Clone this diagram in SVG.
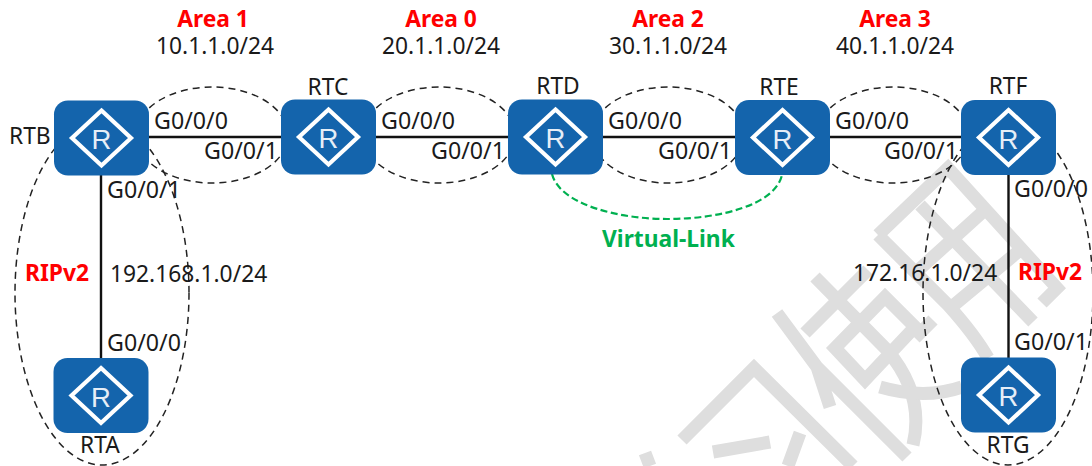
<svg xmlns="http://www.w3.org/2000/svg" width="1092" height="466" viewBox="0 0 1092 466">
<style>
text{font-family:"Noto Sans","Open Sans",sans-serif;font-size:22.8px;fill:#1a1a1a}
.m{text-anchor:middle}
.r{font-weight:700;fill:#ff0000}
.g{font-weight:700;fill:#00b050}
.p{font-size:23.2px}
.body{fill:#1464ac}
.dia{fill:none;stroke:#fff;stroke-width:4.2}
.R{font-family:"Liberation Sans",Arial,sans-serif;font-size:27.5px;fill:#e6eef7;text-anchor:middle}
.link{stroke:#111;stroke-width:2.4;fill:none}
.dash{fill:none;stroke:#222;stroke-width:1.5;stroke-dasharray:7 5}
.vl{fill:none;stroke:#00b050;stroke-width:2.2;stroke-dasharray:7 3.5}
.wm{fill:none;stroke:#dedede;stroke-width:13}
</style>
<defs>
<g id="router">
<rect class="body" x="-47.5" y="-37.5" width="95" height="75" rx="14"/>
<path class="dia" d="M0-27.5L29.5 0L0 27.5L-29.5 0Z"/>
<text class="R" x="0" y="11">R</text>
</g>
</defs>
<g id="watermark">
<path class="wm" d="M878 235L948 168L1057 288L1042 303M878 235L948 305Q975 335 988 358M920 205L1033 322M913 275L987 208M948 310L1020 250"/>
<path class="wm" d="M682 440L754 368L853 466M713 452L770 442M800 433L788 466M645 453L650 466M777 313L817 367L907 457M817 367L830 407M805 333L868 270M815 277L887 350Q925 395 913 445M835 348L885 297L915 327L865 380ZM915 338L933 320"/>
<path class="wm" d="M880 387Q925 400 962 387"/>
</g>
<g id="connectors">
<path class="link" d="M149 137H961M101 175V358M1008.5 175V358"/>
<ellipse class="dash" cx="212" cy="135" rx="76" ry="48"/>
<ellipse class="dash" cx="439" cy="135" rx="76" ry="48"/>
<ellipse class="dash" cx="668" cy="135" rx="76" ry="48"/>
<ellipse class="dash" cx="893" cy="135" rx="76" ry="48"/>
<ellipse class="dash" cx="102" cy="293" rx="87" ry="172"/>
<ellipse class="dash" cx="1008" cy="293" rx="85" ry="172"/>
<path class="vl" d="M552 174C560 205 620 219 667 219C720 219 775 205 782 175"/>
</g>
<g id="RTB"><use href="#router" x="101.5" y="138"/><text x="9" y="144">RTB</text></g>
<g id="RTC"><use href="#router" x="328.5" y="137"/><text class="m" x="328" y="95">RTC</text></g>
<g id="RTD"><use href="#router" x="555.5" y="137"/><text class="m" x="558" y="94">RTD</text></g>
<g id="RTE"><use href="#router" x="782.5" y="137.5"/><text class="m" x="779" y="95">RTE</text></g>
<g id="RTF"><use href="#router" x="1008.5" y="137.5"/><text class="m" x="1008" y="94">RTF</text></g>
<g id="RTG"><use href="#router" x="1008.5" y="395"/><text class="m" x="1008" y="453">RTG</text></g>
<g id="RTA"><use href="#router" x="101" y="395.5"/><text class="m" x="100" y="453">RTA</text></g>
<g id="labels">
<text class="r m" x="213" y="27">Area 1</text><text class="m" x="215" y="54">10.1.1.0/24</text>
<text class="r m" x="441" y="27">Area 0</text><text class="m" x="441" y="54">20.1.1.0/24</text>
<text class="r m" x="668" y="27">Area 2</text><text class="m" x="668" y="54">30.1.1.0/24</text>
<text class="r m" x="895" y="27">Area 3</text><text class="m" x="895" y="54">40.1.1.0/24</text>
<g class="ports">
<text class="p" x="154" y="129">G0/0/0</text><text class="p" x="204" y="159">G0/0/1</text>
<text class="p" x="381" y="129">G0/0/0</text><text class="p" x="431" y="159">G0/0/1</text>
<text class="p" x="608" y="129">G0/0/0</text><text class="p" x="658" y="159">G0/0/1</text>
<text class="p" x="835" y="129">G0/0/0</text><text class="p" x="884" y="159">G0/0/1</text>
<text class="p" x="107" y="198">G0/0/1</text><text class="p" x="107" y="351">G0/0/0</text>
<text class="p" x="1014" y="197">G0/0/0</text><text class="p" x="1014" y="350">G0/0/1</text>
</g>
<text class="r" x="25" y="281">RIPv2</text><text x="110" y="282">192.168.1.0/24</text>
<text x="853" y="281">172.16.1.0/24</text><text class="r" x="1018" y="280">RIPv2</text>
<text class="g" x="602" y="247">Virtual-Link</text>
</g>
</svg>
